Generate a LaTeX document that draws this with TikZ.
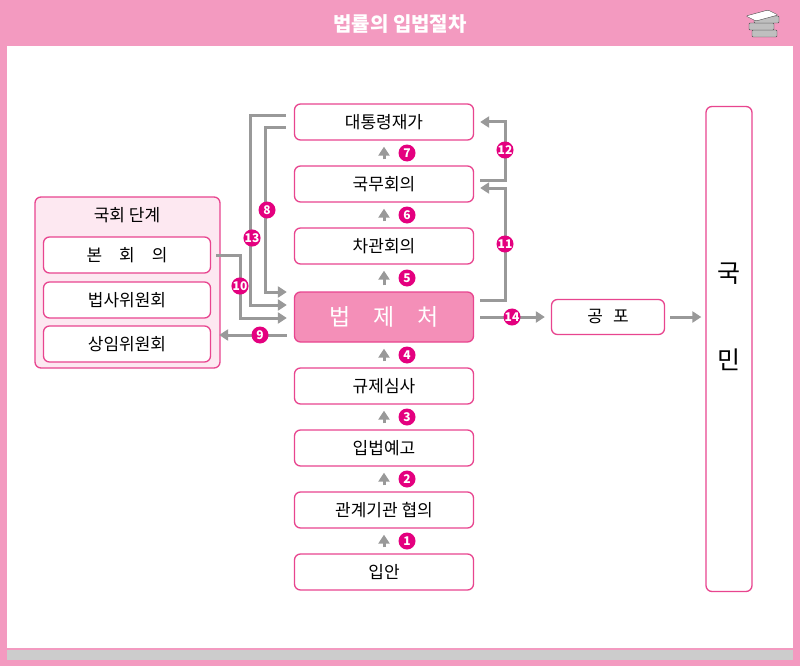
\documentclass[tikz,border=0pt]{standalone}
\usepackage{fontspec}
\setmainfont{Noto Sans CJK KR}
\usetikzlibrary{arrows.meta,positioning,calc}
\definecolor{barpink}{HTML}{F39AC0}
\definecolor{linepink}{HTML}{E8458F}
\definecolor{numpink}{HTML}{E4007F}
\definecolor{boxfill}{HTML}{F48FB8}
\definecolor{assyfill}{HTML}{FDE8F1}
\definecolor{arrgray}{HTML}{999999}

\begin{document}
\begin{tikzpicture}[x=1pt,y=-1pt,
    stage/.style={draw=linepink,line width=1.3pt,rounded corners=6pt,fill=white,
                 minimum width=179pt,minimum height=36pt,font=\fontsize{17}{17}\selectfont},
    sub/.style={stage,minimum width=167pt},
    num/.style={circle,fill=numpink,text=white,inner sep=0pt,minimum size=17pt,
                font=\bfseries\fontsize{12}{12}\selectfont},
    flow/.style={draw=arrgray,line width=3pt,-{Triangle[width=11pt,length=9pt]}}]
  \useasboundingbox (0,0) rectangle (800,666);
  % frame
  \fill[barpink] (0,0) rectangle (800,666);
  \fill[white] (7,46) rectangle (793,648);
  \fill[black!20] (7,650) rectangle (793,660);
  \node[text=white,font=\bfseries\fontsize{20}{20}\selectfont] (title) at (400,24) {법률의 입법절차};
  % books
  \foreach \yy/\xx in {37/752,30/749,23/754}
    \draw[black!70,fill=black!25,rounded corners=1pt] (\xx,\yy) rectangle ++(25,-7);
  \draw[black!70,fill=white,rounded corners=1pt] (746,16) -- (768,10) -- (778,15) -- (756,21) -- cycle;

  % 국회 단계
  \draw[linepink,line width=1.3pt,rounded corners=6pt,fill=assyfill] (35,197) rectangle (220,368);
  \node[font=\fontsize{17}{17}\selectfont] (assy) at (127,215) {국회 단계};
  \node[sub] (plen) at (127,255) {본\hspace{1em}회\hspace{1em}의};
  \node[sub] (legis) at (127,300) {법사위원회};
  \node[sub] (stand) at (127,344) {상임위원회};

  % main column
  \node[stage] (pres) at (384,122) {대통령재가};
  \node[stage] (cab) at (384,184) {국무회의};
  \node[stage] (vice) at (384,246) {차관회의};
  \node[stage,fill=boxfill,text=white,minimum height=50pt,
        font=\fontsize{23}{23}\selectfont] (moleg) at (384,317) {법\hspace{1em}제\hspace{1em}처};
  \node[stage] (reg) at (384,386) {규제심사};
  \node[stage] (notice) at (384,448) {입법예고};
  \node[stage] (consult) at (384,510) {관계기관 협의};
  \node[stage] (draft) at (384,572) {입안};

  \node[stage,minimum width=113pt,minimum height=35pt] (promul) at (608,317) {공\hspace{0.6em}포};
  \node[stage,minimum width=46pt,minimum height=485pt] (people) at (729,349) {};
  \node[font=\fontsize{25}{25}\selectfont,below=0pt of people.center,yshift=90pt,
        align=center] (peopletxt) {국\\[62pt]민};

  % upward steps
  \foreach \a/\b/\n in {draft/consult/1,consult/notice/2,notice/reg/3,reg/moleg/4,
                        moleg/vice/5,vice/cab/6,cab/pres/7} {
    \draw[flow] ([yshift=6pt]\a.north) -- ([yshift=-6pt]\b.south);
    \node[num] at ($(\a.north)!0.5!(\b.south)+(23,0)$) {\n};
  }

  % side routes
  \draw[flow] ([xshift=6pt,yshift=4pt]cab.east) -- ++(25,0) |- ([xshift=6pt]pres.east);
  \node[num] at (505,150) {12};
  \draw[flow] ([xshift=6pt,yshift=17pt]moleg.east) -- ++(25,0) |- ([xshift=6pt,yshift=-4pt]cab.east);
  \node[num] at (505,244) {11};
  \draw[flow] ([xshift=-8pt,yshift=-6pt]pres.west) -- ++(-20,0) |- ([xshift=-7pt,yshift=25pt]moleg.west);
  \node[num] at (267,210) {8};
  \draw[flow] ([xshift=-8pt,yshift=6pt]pres.west) -- ++(-35,0) |- ([xshift=-7pt,yshift=12pt]moleg.west);
  \node[num] at (252,238) {13};
  \draw[flow] ([xshift=5pt]plen.east) -- ++(24,0) |- ([xshift=-7pt,yshift=-1pt]moleg.west);
  \node[num] at (240,286) {10};
  \draw[flow] ([xshift=-7pt,yshift=-18pt]moleg.west) -- ([xshift=8pt,yshift=9pt]stand.east);
  \node[num] at (260,335) {9};
  \draw[flow] ([xshift=6pt]moleg.east) -- ([xshift=-6pt]promul.west);
  \node[num] at (512,317) {14};
  \draw[flow] ([xshift=5pt]promul.east) -- ([xshift=-4pt]people.west |- promul.east);
\end{tikzpicture}
\end{document}
